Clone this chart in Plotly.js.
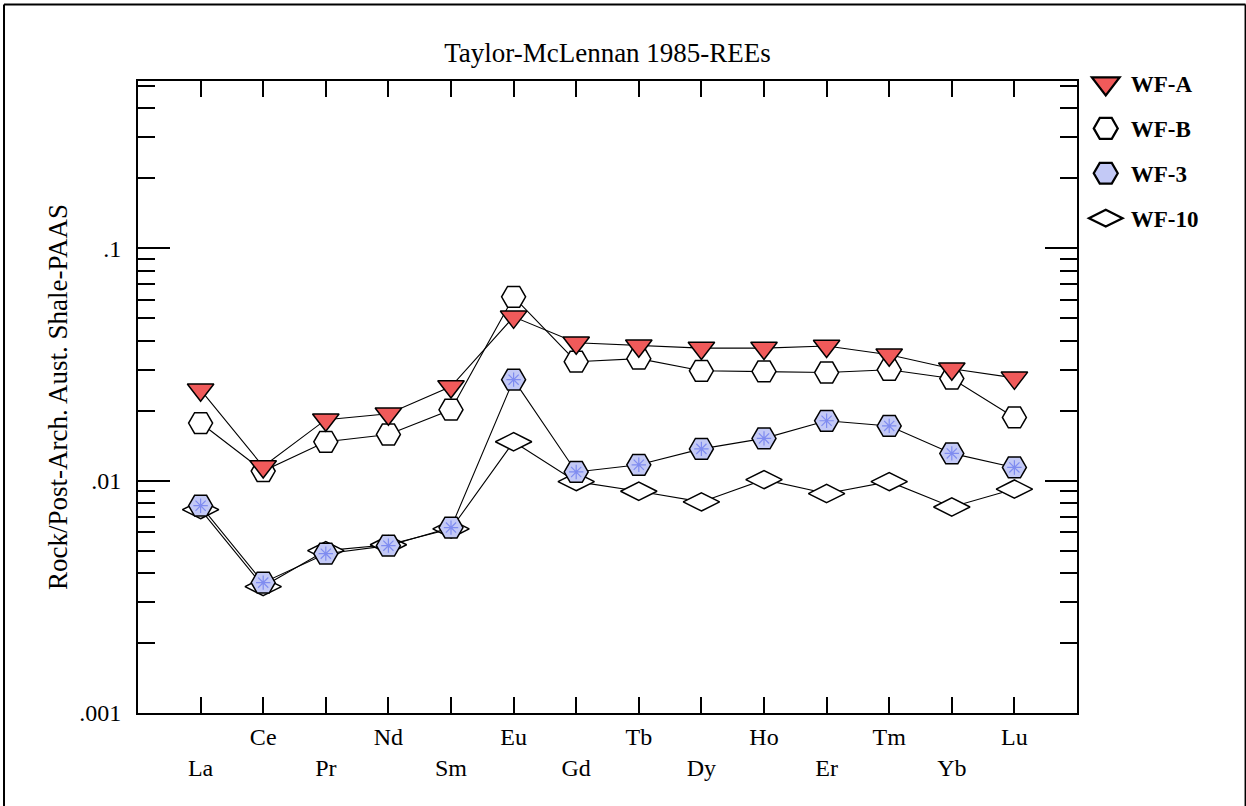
<!DOCTYPE html>
<html><head><meta charset="utf-8">
<script src="https://cdn.plot.ly/plotly-3.0.1.min.js"></script>
<style>html,body{margin:0;padding:0;background:#fff}#chart{width:1246px;height:806px}</style>
</head><body><div id="chart"></div>
<script>
const elements = ['La','Ce','Pr','Nd','Sm','Eu','Gd','Tb','Dy','Ho','Er','Tm','Yb','Lu'];
const wfA  = [0.0246,0.0115,0.0183,0.0194,0.0254,0.0507,0.0392,0.0381,0.0372,0.0372,0.0380,0.0348,0.0303,0.0277];
const wfB  = [0.0177,0.0110,0.0147,0.0158,0.0202,0.0618,0.0325,0.0335,0.0297,0.0295,0.0292,0.0300,0.0275,0.0187];
const wf3  = [0.0078,0.00364,0.00485,0.00525,0.00628,0.0272,0.0109,0.0117,0.0137,0.0152,0.0181,0.0172,0.0131,0.0114];
const wf10 = [0.0075,0.0035,0.0050,0.0053,0.0062,0.0147,0.0099,0.0090,0.0081,0.0101,0.0088,0.0099,0.0077,0.0092];
const seriesNames = ['WF-A','WF-B','WF-3','WF-10'];
const yTickVals = [0.001,0.01,0.1];
const yTickText = ['.001','.01','.1'];
const titleText = 'Taylor-McLennan 1985-REEs';
const yTitleText = 'Rock/Post-Arch. Aust. Shale-PAAS';

const FONT = 'Liberation Serif, Times New Roman, serif';
// alternate the element labels on two rows
const xTickText = elements.map((e, i) => i % 2 === 0 ? '<br>' + e : e);

function tr(name, y, symbol, fill, size, rank) {
  return {
    x: elements, y: y, name: name, type: 'scatter', mode: 'lines+markers',
    legendgroup: name, legendrank: rank,
    line: {color: '#000', width: 1.1},
    marker: {symbol: symbol, size: size, color: fill, line: {color: '#000', width: 1.5}}
  };
}

const data = [
  tr(seriesNames[3], wf10, 'diamond-wide', '#ffffff', 26, 4),
  tr(seriesNames[2], wf3, 'hexagon2', '#c3c9f6', 24, 3),
  {x: elements, y: wf3, type: 'scatter', mode: 'markers', showlegend: false, hoverinfo: 'skip',
   legendgroup: seriesNames[2],
   marker: {symbol: 'asterisk-open', size: 12, color: '#7f8cf0', line: {color: '#7f8cf0', width: 1.2}}},
  tr(seriesNames[1], wfB, 'hexagon2', '#ffffff', 24, 2),
  tr(seriesNames[0], wfA, 'triangle-down', '#f05a5a', 23, 1)
];

const layout = {
  width: 1246, height: 806,
  margin: {l: 138, r: 169, t: 81, b: 93},
  paper_bgcolor: '#fff', plot_bgcolor: '#fff',
  font: {family: FONT, color: '#000', size: 23},
  title: {text: titleText, font: {family: FONT, size: 27, color: '#000'},
          x: 0.5, xref: 'paper', y: 0.935, yref: 'container', yanchor: 'middle'},
  xaxis: {
    type: 'category', range: [-1, 14],
    tickmode: 'array', tickvals: elements, ticktext: xTickText,
    ticks: 'inside', ticklen: 16, tickwidth: 2, tickcolor: '#000',
    showline: true, linewidth: 2, linecolor: '#000', mirror: 'ticks',
    showgrid: false, zeroline: false,
    tickfont: {family: FONT, size: 24, color: '#000'},
    ticklabelstandoff: 1
  },
  yaxis: {
    type: 'log', range: [-3, -0.28],
    tickmode: 'array', tickvals: yTickVals, ticktext: yTickText,
    ticks: 'inside', ticklen: 32, tickwidth: 2, tickcolor: '#000',
    minor: {ticks: 'inside', ticklen: 17, tickwidth: 2, tickcolor: '#000', dtick: 'D1', showgrid: false},
    showline: true, linewidth: 2, linecolor: '#000', mirror: 'ticks',
    showgrid: false, zeroline: false,
    tickfont: {family: FONT, size: 24, color: '#000'},
    ticklabelstandoff: 10,
    title: {text: yTitleText, font: {family: FONT, size: 27, color: '#000'}, standoff: 4}
  },
  showlegend: true,
  legend: {
    x: 1.004, xanchor: 'left', y: 1.03, yanchor: 'top',
    bgcolor: 'rgba(0,0,0,0)', borderwidth: 0,
    font: {family: FONT, size: 23, color: '#000', weight: 'bold'},
    tracegroupgap: 12, itemwidth: 40
  },
  shapes: [
    {type: 'line', xref: 'paper', yref: 'paper', x0: -0.1427, x1: -0.1427, y0: 1.121, y1: -0.15, line: {color: '#000', width: 2}},
    {type: 'line', xref: 'paper', yref: 'paper', x0: -0.1427, x1: 1.1795, y0: 1.121, y1: 1.121, line: {color: '#000', width: 2}},
    {type: 'line', xref: 'paper', yref: 'paper', x0: 1.1795, x1: 1.1795, y0: 1.121, y1: -0.15, line: {color: '#000', width: 2}}
  ]
};

Plotly.newPlot('chart', data, layout, {displayModeBar: false, staticPlot: true}).then(gd => {
  gd.querySelectorAll('.legend .legendpoints path.scatterpts').forEach(p => {
    const t = p.getAttribute('transform') || '';
    p.setAttribute('transform', t + ' scale(1.5)');
  });
  gd.querySelectorAll('.legend .legendlines path').forEach(p => { p.style.display = 'none'; });
});
</script>
</body></html>
